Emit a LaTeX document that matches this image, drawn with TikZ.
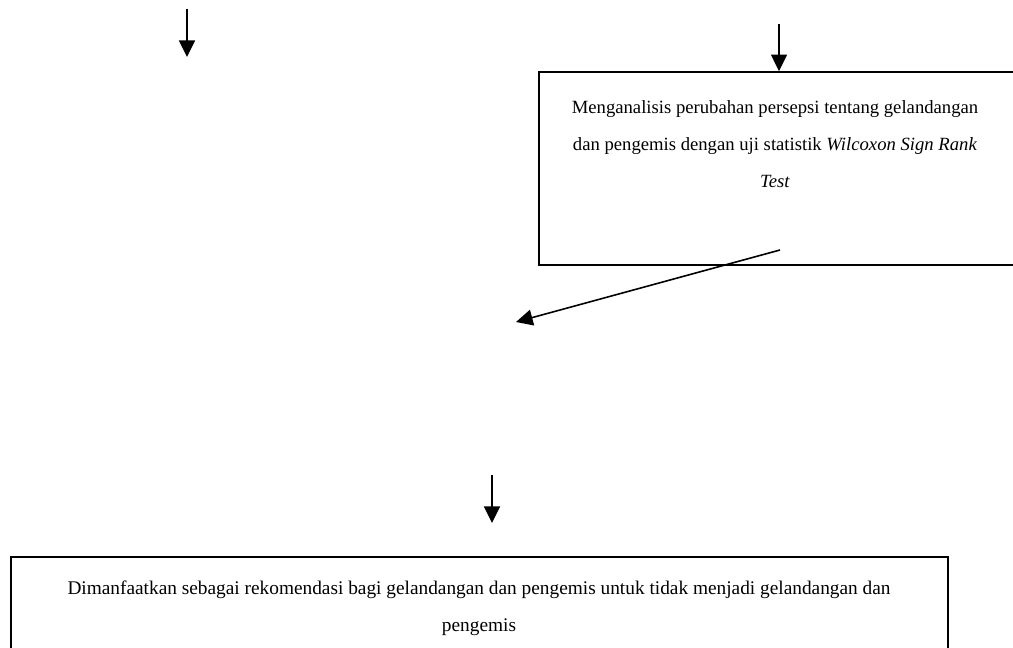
\documentclass[tikz,border=0pt]{standalone}
\usepackage{fontspec}
\setmainfont{Liberation Serif}
\usetikzlibrary{arrows.meta, positioning}
\tikzstyle{kotak} = [rectangle, draw=black, line width=1.2pt]
\tikzstyle{teks} = [align=center, font=\fontsize{14pt}{28pt}\selectfont]
\tikzstyle{panah} = [line width=1.2pt, -{Triangle[length=12.5pt, width=12pt]}]

\begin{document}
\begin{tikzpicture}[x=0.75pt, y=-0.75pt]
\clip (0,0) rectangle (1013,647);

% Analisis
\node (analisis) [kotak, minimum width=360.75pt, minimum height=144.75pt] at (779.5,168.5) {};
\node (analisis-teks) [teks] at (775,144) {Menganalisis perubahan persepsi tentang gelandangan\\
    dan pengemis dengan uji statistik \textit{Wilcoxon Sign Rank}\\
    \textit{Test}};

% Rekomendasi
\node (rekomendasi) [kotak, minimum width=702.75pt, minimum height=92.25pt] at (479.5,618.5) {};
\node (rekomendasi-teks) [teks, font=\fontsize{14.5pt}{28pt}\selectfont] at (479,608) {Dimanfaatkan sebagai rekomendasi bagi gelandangan dan pengemis untuk tidak menjadi gelandangan dan\\
    pengemis};

% Panah
\coordinate (awal-kiri) at (187,9);
\coordinate (ujung-kiri) at (187,57);
\draw [panah] (awal-kiri) -- (ujung-kiri);
\coordinate (awal-kanan) at (779,24);
\draw [panah] (awal-kanan) -- (awal-kanan |- analisis.north);
\coordinate (awal-miring) at (780,250);
\coordinate (ujung-miring) at (516,322);
\draw [panah] (awal-miring) -- (ujung-miring);
\coordinate (awal-bawah) at (492,475);
\coordinate (ujung-bawah) at (492,523);
\draw [panah] (awal-bawah) -- (ujung-bawah);

\end{tikzpicture}
\end{document}
